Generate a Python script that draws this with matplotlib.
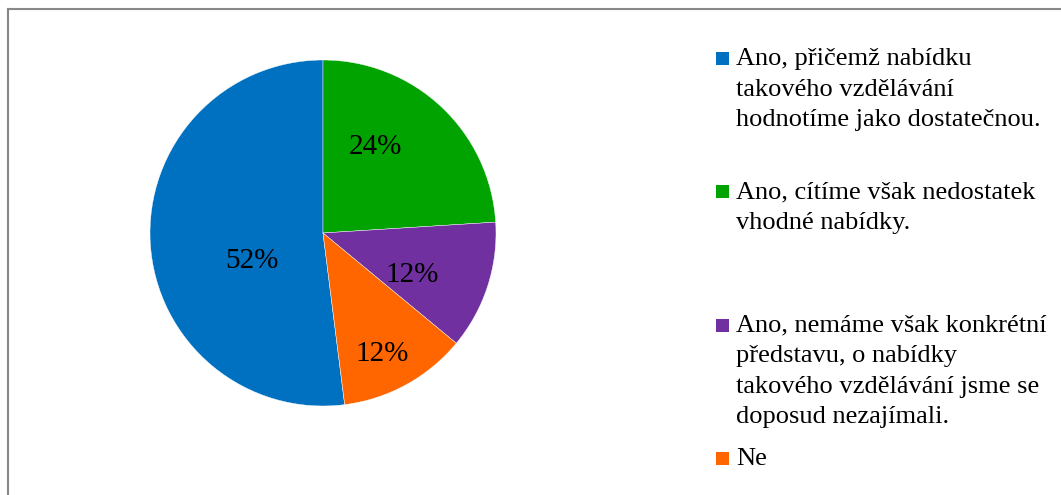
import numpy as np
import matplotlib
matplotlib.use('Agg')
import matplotlib.pyplot as plt
from matplotlib.patches import Rectangle
from matplotlib.lines import Line2D

plt.rcParams['font.family'] = ['Liberation Serif', 'DejaVu Serif']

# Survey answers (legend order) and their shares in percent
answers = [
    'Ano, přičemž nabídku\ntakového vzdělávání\nhodnotíme jako dostatečnou.',
    'Ano, cítíme však nedostatek\nvhodné nabídky.',
    'Ano, nemáme však konkrétní\npředstavu, o nabídky\ntakového vzdělávání jsme se\ndoposud nezajímali.',
    'Ne',
]
shares = [52, 24, 12, 12]
colors = ['#0070C0', '#00A300', '#7030A0', '#FF6600']

# where the percentage text sits inside each wedge (radius fraction, angle shift in deg)
label_r = [0.44, 0.58, 0.57, 0.78]
label_shift = [18, 12, -7, -3]

W, H = 1061, 495
fig = plt.figure(figsize=(W / 100, H / 100), dpi=100)

# pie axes: centre (323, 233) px, radius 173 px
cx, cy, r = 323, 233, 173
ax = fig.add_axes([(cx - r) / W, (H - cy - r) / H, 2 * r / W, 2 * r / H])
start = 90 + shares[0] / sum(shares) * 360
wedges, _ = ax.pie(shares, colors=colors, startangle=start, counterclock=False,
                   wedgeprops=dict(edgecolor='white', linewidth=0.3))
ax.set_xlim(-1, 1)
ax.set_ylim(-1, 1)
ax.set_aspect('equal')

for w, v, lr, sh in zip(wedges, shares, label_r, label_shift):
    mid = np.deg2rad((w.theta1 + w.theta2) / 2 + sh)
    ax.text(lr * np.cos(mid), lr * np.sin(mid), f'{v}%', ha='center', va='center',
            fontsize=21, color='black')

# legend drawn by hand: coloured squares plus wrapped text, equally spaced
first_base = 65
step = 133.3
line_h = 30.5
for i, (txt, col) in enumerate(zip(answers, colors)):
    base = first_base + i * step
    fig.patches.append(Rectangle((716 / W, 1 - base / H), 13 / W, 13 / H,
                                 transform=fig.transFigure, facecolor=col,
                                 edgecolor='none'))
    for k, line in enumerate(txt.split('\n')):
        fig.text(736 / W, 1 - (base + k * line_h) / H, line, ha='left',
                 va='baseline', fontsize=19, color='black')

# outer frame (only the top and left edges are in view)
fig.add_artist(Line2D([8 / W, 8 / W], [0, 1 - 9 / H], transform=fig.transFigure,
                      color='#888888', linewidth=1.5))
fig.add_artist(Line2D([8 / W, 1], [1 - 9 / H, 1 - 9 / H], transform=fig.transFigure,
                      color='#888888', linewidth=1.5))

fig.savefig('out.png', dpi=100)
